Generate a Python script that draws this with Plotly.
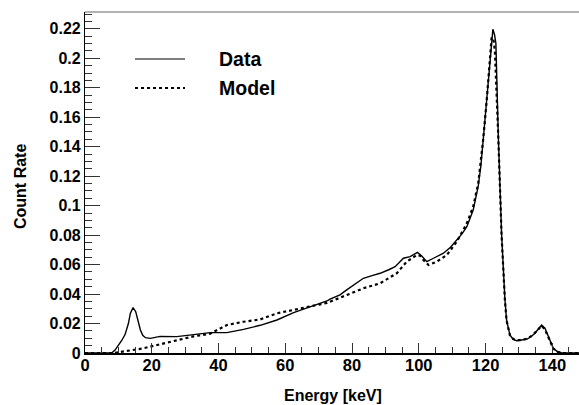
import plotly.graph_objects as go

# Data (solid)
data_e = [0, 8, 9, 10, 11, 12, 13, 13.6, 14.4, 15.2, 16, 16.6, 17.3, 18.1, 19.6, 22.5, 27.5,
          32.5, 37.5, 42.5, 47.5, 52.5, 57.5, 62.5, 67.5, 72.5, 73.4, 76.4, 78.4, 80.5, 83.4,
          86, 88.4, 91, 92.9, 94, 95.4, 97.4, 99.6, 100.9, 102.4, 104.4, 107.4, 109.5, 111.4,
          113, 114.4, 116.3, 117.8, 118.6, 119.3, 120.3, 121.3, 121.8, 122.2, 122.7, 123.1,
          123.8, 124.8, 125.8, 126.3, 127.3, 128.3, 129.3, 130.8, 132.3, 133.6, 134.8, 136,
          136.8, 137.8, 138.6, 139.3, 140.3, 141.5, 142.8, 148]
data_v = [0, 0, 0.002, 0.005, 0.0085, 0.0125, 0.02, 0.027, 0.0308, 0.028, 0.021, 0.0156, 0.012,
          0.0104, 0.0099, 0.0113, 0.0111, 0.0127, 0.0138, 0.0138, 0.016, 0.0188, 0.0224, 0.0274,
          0.0314, 0.0353, 0.0366, 0.0395, 0.0428, 0.046, 0.0507, 0.0525, 0.0541, 0.0565, 0.0586,
          0.061, 0.0643, 0.0654, 0.0683, 0.0658, 0.062, 0.0643, 0.0677, 0.0718, 0.0767, 0.081,
          0.0857, 0.097, 0.113, 0.127, 0.1446, 0.1717, 0.1988, 0.212, 0.2197, 0.216, 0.2102,
          0.149, 0.0812, 0.0366, 0.0224, 0.0122, 0.0092, 0.0083, 0.0086, 0.0093, 0.011, 0.0134,
          0.0168, 0.019, 0.0168, 0.012, 0.0088, 0.0032, 0.001, 0, 0]

# Model (dashed)
model_e = [0, 8.6, 12.6, 17.5, 22.5, 27.5, 32.5, 37.5, 40.5, 42.5, 47.5, 52.5, 57.5, 62.5,
           67.5, 72.5, 76.4, 78.4, 83.4, 88.4, 93.4, 96.4, 99.4, 100.4, 101.4, 102.9, 105.4,
           108.4, 111.4, 114.4, 116.3, 117.8, 119.3, 120.3, 121.3, 121.8, 122.3, 122.8, 123.8,
           124.8, 125.8, 126.3, 127.3, 128.3, 129.3, 130.8, 132.3, 133.6, 134.8, 136, 136.8,
           137.8, 138.6, 139.3, 140.3, 141.5, 142.8, 148]
model_v = [0, 0, 0.0014, 0.0032, 0.0059, 0.0088, 0.0113, 0.0131, 0.0167, 0.019, 0.0212, 0.0228,
           0.0269, 0.0292, 0.0314, 0.034, 0.0375, 0.0394, 0.0439, 0.0473, 0.0541, 0.062, 0.0665,
           0.066, 0.0631, 0.0597, 0.062, 0.0665, 0.0756, 0.088, 0.0993, 0.115, 0.145, 0.17, 0.197,
           0.2136, 0.214, 0.205, 0.148, 0.08, 0.036, 0.022, 0.012, 0.0095, 0.0087, 0.0088, 0.0097,
           0.0113, 0.0137, 0.017, 0.0185, 0.016, 0.0115, 0.0085, 0.003, 0.0008, 0, 0]

y_ticks = [0, 0.02, 0.04, 0.06, 0.08, 0.1, 0.12, 0.14, 0.16, 0.18, 0.2, 0.22]
y_tick_text = ["0", "0.02", "0.04", "0.06", "0.08", "0.1", "0.12", "0.14", "0.16", "0.18", "0.2", "0.22"]
x_ticks = [0, 20, 40, 60, 80, 100, 120, 140]

FONT = "Liberation Sans, Arial, Helvetica, sans-serif"

fig = go.Figure()
fig.add_trace(go.Scatter(x=model_e, y=model_v, mode="lines", name="Model",
                         line=dict(color="black", width=2.2, dash="3px,3px"), showlegend=False))
fig.add_trace(go.Scatter(x=data_e, y=data_v, mode="lines", name="Data",
                         line=dict(color="black", width=1.4), showlegend=False))

L, T, B = 85, 12, 52
W, H = 579, 405
pw, ph = W - L, H - T - B

def px_x(p):
    return (p - L) / pw

def px_y(p):
    return (H - B - p) / ph

# legend (manual, ROOT-like)
for yy, name, dash, wd, col in [(59, "Data", "solid", 1.5, "#555"), (88, "Model", "3px,3px", 2, "black")]:
    fig.add_shape(type="line", xref="paper", yref="paper", x0=px_x(135), x1=px_x(185),
                  y0=px_y(yy), y1=px_y(yy), line=dict(color=col, width=wd, dash=dash))
    fig.add_annotation(xref="paper", yref="paper", x=px_x(217), y=px_y(yy), text="<b>%s</b>" % name,
                       showarrow=False, xanchor="left", yanchor="middle",
                       font=dict(family=FONT, size=19.5, color="black"))

# top frame line
fig.add_shape(type="line", xref="paper", yref="paper", x0=0, x1=1, y0=1, y1=1,
              line=dict(color="#666", width=1.2))

# axis titles
fig.add_annotation(xref="paper", yref="paper", x=px_x(333), y=px_y(396), text="<b>Energy [keV]</b>",
                   showarrow=False, xanchor="center", yanchor="middle",
                   font=dict(family=FONT, size=16, color="black"))
fig.add_annotation(xref="paper", yref="paper", x=px_x(20), y=px_y(187), text="<b>Count Rate</b>",
                   showarrow=False, xanchor="center", yanchor="middle", textangle=-90,
                   font=dict(family=FONT, size=16, color="black"))

fig.update_layout(
    width=W, height=H, margin=dict(l=L, r=0, t=T, b=B),
    plot_bgcolor="white", paper_bgcolor="white",
    xaxis=dict(range=[0, 148], tickvals=x_ticks, ticktext=["<b>%d</b>" % v for v in x_ticks],
               ticks="inside", ticklen=10, tickwidth=1, tickcolor="#333", ticklabelstandoff=-4,
               minor=dict(dtick=5, tick0=0, ticks="inside", ticklen=6, tickcolor="#333", showgrid=False),
               showline=True, linecolor="black", linewidth=1.5, showgrid=False, zeroline=False,
               tickfont=dict(family=FONT, size=16.5, color="black")),
    yaxis=dict(range=[0, 0.2314], tickvals=y_ticks, ticktext=["<b>%s</b>" % t for t in y_tick_text],
               ticks="inside", ticklen=15, tickwidth=1, tickcolor="#333",
               minor=dict(dtick=0.005, tick0=0, ticks="inside", ticklen=7, tickcolor="#333", showgrid=False),
               showline=True, linecolor="black", linewidth=1.2, showgrid=False, zeroline=False,
               tickfont=dict(family=FONT, size=16, color="black")),
)

fig.write_html("out.html")
